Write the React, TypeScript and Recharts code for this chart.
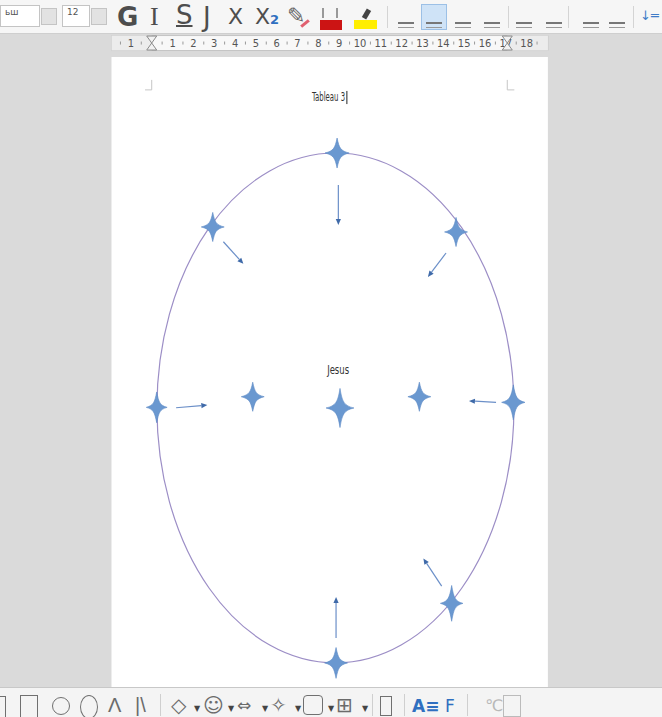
import React from "react";
import {
	ScatterChart,
	Scatter,
	XAxis,
	YAxis,
	ReferenceArea,
	ReferenceLine,
} from "recharts";

// everything is in page centimetres, read off the ruler:
// x = 0 at the left margin, y = 0 at the top edge of the page
const PX_PER_CM = 20.83;
const X_DOMAIN = [-7.283, 24.498];
const Y_DOMAIN = [-2.736, 31.685];

const page = { x1: -1.93, x2: 19.02, y1: 0, y2: 31.6 };
const ruler = { x1: -1.93, x2: 19.02, y1: -1.03, y2: -0.31, y: -0.67 };
const rulerMargins = [0, 17.07];
const rulerNumbers = [
	{ x: -1, label: "1" },
	{ x: 1, label: "1" },
	{ x: 2, label: "2" },
	{ x: 3, label: "3" },
	{ x: 4, label: "4" },
	{ x: 5, label: "5" },
	{ x: 6, label: "6" },
	{ x: 7, label: "7" },
	{ x: 8, label: "8" },
	{ x: 9, label: "9" },
	{ x: 10, label: "10" },
	{ x: 11, label: "11" },
	{ x: 12, label: "12" },
	{ x: 13, label: "13" },
	{ x: 14, label: "14" },
	{ x: 15, label: "15" },
	{ x: 16, label: "16" },
	{ x: 17, label: "17" },
	{ x: 18, label: "18" },
];
const rulerHalfTicks = [
	-1.5, -0.5, 0.5, 1.5, 2.5, 3.5, 4.5, 5.5, 6.5, 7.5, 8.5, 9.5, 10.5, 11.5,
	12.5, 13.5, 14.5, 15.5, 16.5, 17.5, 18.5,
];

// text-area corner marks
const cornerMarks = [
	{ x1: 0, y1: 1.1, x2: 0, y2: 1.58 },
	{ x1: -0.32, y1: 1.58, x2: 0, y2: 1.58 },
	{ x1: 17.07, y1: 1.1, x2: 17.07, y2: 1.58 },
	{ x1: 17.07, y1: 1.58, x2: 17.41, y2: 1.58 },
];

const ellipse = { x1: 0.25, x2: 17.39, y1: 4.61, y2: 29.09 };

// star centres and arm lengths (h vertical, w horizontal)
const stars = [
	{ x: 8.9, y: 4.61, h: 0.72, w: 0.58 },
	{ x: 2.93, y: 8.16, h: 0.7, w: 0.55 },
	{ x: 14.61, y: 8.4, h: 0.7, w: 0.55 },
	{ x: 0.24, y: 16.82, h: 0.74, w: 0.5 },
	{ x: 4.85, y: 16.31, h: 0.7, w: 0.55 },
	{ x: 9.04, y: 16.85, h: 0.94, w: 0.67 },
	{ x: 12.85, y: 16.31, h: 0.7, w: 0.55 },
	{ x: 17.36, y: 16.58, h: 0.84, w: 0.56 },
	{ x: 14.4, y: 26.23, h: 0.86, w: 0.54 },
	{ x: 8.85, y: 29.09, h: 0.74, w: 0.55 },
];

// arrows: from (x1,y1) to the head at (x2,y2)
const arrows = [
	{ x1: 8.96, y1: 6.15, x2: 8.96, y2: 8.07 },
	{ x1: 3.44, y1: 8.87, x2: 4.4, y2: 9.93 },
	{ x1: 14.13, y1: 9.41, x2: 13.26, y2: 10.56 },
	{ x1: 1.17, y1: 16.84, x2: 2.67, y2: 16.71 },
	{ x1: 16.53, y1: 16.58, x2: 15.23, y2: 16.51 },
	{ x1: 13.92, y1: 25.4, x2: 13.04, y2: 24.07 },
	{ x1: 8.85, y1: 27.89, x2: 8.85, y2: 25.92 },
];

const texts = [
	{ x: 8.49, y: 2.12, text: "Tableau 3", len: 33 },
	{ x: 8.95, y: 15.2, text: "Jesus", len: 22 },
];
const cursor = { x: 9.37, y1: 1.63, y2: 2.26 };

const textFont = "'Liberation Sans Narrow', 'DejaVu Sans Condensed', sans-serif";

const StarShape = (props: any) => {
	const { cx, cy, payload } = props;
	const h = payload.h * PX_PER_CM;
	const w = payload.w * PX_PER_CM;
	const a = 2.2;
	const kh = 0.3 * h;
	const kw = 0.3 * w;
	const d = [
		`M${cx},${cy - h}`,
		`C${cx + a},${cy - kh} ${cx + kw},${cy - a} ${cx + w},${cy}`,
		`C${cx + kw},${cy + a} ${cx + a},${cy + kh} ${cx},${cy + h}`,
		`C${cx - a},${cy + kh} ${cx - kw},${cy + a} ${cx - w},${cy}`,
		`C${cx - kw},${cy - a} ${cx - a},${cy - kh} ${cx},${cy - h}`,
		"Z",
	].join(" ");
	return <path d={d} fill="#6a98d0" stroke="#5a88c4" strokeWidth={0.6} />;
};

const ArrowShape = (props: any) => {
	const { x1, y1, x2, y2 } = props;
	if (x1 == null) return null;
	const dx = x2 - x1;
	const dy = y2 - y1;
	const len = Math.sqrt(dx * dx + dy * dy) || 1;
	const ux = dx / len;
	const uy = dy / len;
	const hl = 6;
	const hw = 2.6;
	const bx = x2 - ux * hl;
	const by = y2 - uy * hl;
	return (
		<g>
			<line x1={x1} y1={y1} x2={bx} y2={by} stroke="#6b8fc8" strokeWidth={1.2} />
			<polygon
				points={`${x2},${y2} ${bx - uy * hw},${by + ux * hw} ${bx + uy * hw},${by - ux * hw}`}
				fill="#3f6aa9"
			/>
		</g>
	);
};

const EllipseShape = (props: any) => {
	const { x, y, width, height } = props;
	if (x == null) return null;
	const w = Math.abs(width);
	const h = Math.abs(height);
	const left = width < 0 ? x + width : x;
	const top = height < 0 ? y + height : y;
	return (
		<ellipse
			cx={left + w / 2}
			cy={top + h / 2}
			rx={w / 2}
			ry={h / 2}
			fill="none"
			stroke="#9c8ec6"
			strokeWidth={1.2}
		/>
	);
};

const RulerNumber = (props: any) => {
	const { cx, cy, payload } = props;
	return (
		<text
			x={cx}
			y={cy + 4}
			textAnchor="middle"
			fontSize={11}
			fontFamily={textFont}
			fill="#555"
		>
			{payload.label}
		</text>
	);
};

const RulerTick = (props: any) => {
	const { cx, cy } = props;
	return <line x1={cx} x2={cx} y1={cy - 1.5} y2={cy + 1.5} stroke="#999" strokeWidth={1} />;
};

const MarginMarker = (props: any) => {
	const { cx, cy } = props;
	return (
		<g fill="#f2f2f2" stroke="#8a8a8a" strokeWidth={1}>
			<polygon points={`${cx - 5},${cy - 7} ${cx + 5},${cy - 7} ${cx},${cy}`} />
			<polygon points={`${cx},${cy} ${cx - 5},${cy + 7} ${cx + 5},${cy + 7}`} />
		</g>
	);
};

const TextShape = (props: any) => {
	const { cx, cy, payload } = props;
	return (
		<text
			x={cx}
			y={cy}
			textAnchor="middle"
			fontSize={12}
			fontFamily={textFont}
			fill="#333"
			textLength={payload.len}
			lengthAdjust="spacingAndGlyphs"
		>
			{payload.text}
		</text>
	);
};

const abs = (left: number, top: number, extra: React.CSSProperties = {}): React.CSSProperties => ({
	position: "absolute",
	left,
	top,
	...extra,
});

const AlignIcon = ({ left, active }: { left: number; active?: boolean }) => (
	<div
		style={abs(left, 4, {
			width: 26,
			height: 26,
			background: active ? "#cfe3f7" : "transparent",
			border: active ? "1px solid #9cc0e6" : "1px solid transparent",
			boxSizing: "border-box",
		})}
	>
		<div style={abs(4, 17, { width: 16, height: 2, background: "#777" })} />
		<div style={abs(4, 22, { width: 16, height: 1, background: "#999" })} />
	</div>
);

const TopToolbar = () => {
	const glyph: React.CSSProperties = {
		fontSize: 26,
		color: "#4d4d4d",
		lineHeight: "26px",
	};
	return (
		<div style={abs(0, 0, { width: 662, height: 33, background: "#f6f6f6", borderBottom: "1px solid #cfcfcf", overflow: "hidden" })}>
			<div style={abs(0, 5, { width: 38, height: 20, background: "#fff", border: "1px solid #c4c4c4", fontSize: 9, lineHeight: "12px", color: "#555", fontFamily: "DejaVu Sans" })}>
				<span style={{ marginLeft: 4 }}>ьш</span>
			</div>
			<div style={abs(41, 8, { width: 14, height: 15, background: "#e2e2e2", border: "1px solid #c4c4c4" })} />
			<div style={abs(62, 5, { width: 26, height: 20, background: "#fff", border: "1px solid #c4c4c4", fontSize: 9, lineHeight: "12px", color: "#555", fontFamily: "DejaVu Sans" })}>
				<span style={{ marginLeft: 4 }}>12</span>
			</div>
			<div style={abs(91, 8, { width: 14, height: 15, background: "#e2e2e2", border: "1px solid #c4c4c4" })} />
			<div style={abs(117, 4, { ...glyph, fontFamily: "DejaVu Sans", fontWeight: 700 })}>G</div>
			<div style={abs(150, 4, { ...glyph, fontFamily: "Liberation Serif" })}>I</div>
			<div style={abs(176, 2, { ...glyph, fontFamily: "DejaVu Sans", textDecoration: "underline", textDecorationThickness: 2 })}>S</div>
			<div style={abs(203, 4, { ...glyph, fontFamily: "DejaVu Sans" })}>J</div>
			<div style={abs(228, 4, { ...glyph, fontFamily: "DejaVu Sans", fontSize: 22 })}>X</div>
			<div style={abs(255, 4, { ...glyph, fontFamily: "DejaVu Sans", fontSize: 22 })}>
				X<span style={{ fontSize: 13, color: "#2f6fc0", fontWeight: 700 }}>2</span>
			</div>
			<div style={abs(287, 3, { ...glyph, fontFamily: "DejaVu Sans", fontSize: 22, color: "#666" })}>✎</div>
			<div style={abs(300, 22, { width: 10, height: 3, background: "#e06070", transform: "rotate(-40deg)" })} />
			<div style={abs(320, 20, { width: 22, height: 10, background: "#cc1414" })} />
			<div style={abs(322, 8, { width: 2, height: 10, background: "#999" })} />
			<div style={abs(336, 8, { width: 2, height: 10, background: "#999" })} />
			<div style={abs(354, 20, { width: 23, height: 9, background: "#ffee00" })} />
			<div style={abs(364, 9, { width: 5, height: 10, background: "#444", transform: "rotate(30deg)" })} />
			<div style={abs(387, 6, { width: 1, height: 22, background: "#d4d4d4" })} />
			<AlignIcon left={393} />
			<AlignIcon left={421} active />
			<AlignIcon left={450} />
			<AlignIcon left={479} />
			<div style={abs(508, 6, { width: 1, height: 22, background: "#d4d4d4" })} />
			<AlignIcon left={511} />
			<AlignIcon left={541} />
			<div style={abs(568, 6, { width: 1, height: 22, background: "#d4d4d4" })} />
			<AlignIcon left={578} />
			<AlignIcon left={604} />
			<div style={abs(633, 6, { width: 1, height: 22, background: "#d4d4d4" })} />
			<div style={abs(640, 8, { fontSize: 13, lineHeight: "16px", color: "#3f7cc8", fontFamily: "DejaVu Sans" })}>↓═</div>
		</div>
	);
};

const BottomToolbar = () => {
	const g: React.CSSProperties = {
		fontSize: 20,
		color: "#6b6b6b",
		fontFamily: "DejaVu Sans",
		lineHeight: "22px",
	};
	const tri: React.CSSProperties = { fontSize: 8, lineHeight: "10px", color: "#444", fontFamily: "DejaVu Sans" };
	const sep = (left: number) => (
		<div style={abs(left, 694, { width: 1, height: 22, background: "#cfcfcf" })} />
	);
	return (
		<>
			<div style={abs(0, 687, { width: 662, height: 30, background: "#f4f4f4", borderTop: "1px solid #c8c8c8" })} />
			<div style={abs(0, 696, { width: 6, height: 21, borderTop: "1.5px solid #707070", borderRight: "1.5px solid #707070", boxSizing: "border-box" })} />
			<div style={abs(20, 695, { width: 18, height: 22, border: "1.5px solid #707070", borderBottom: "none", boxSizing: "border-box" })} />
			<div style={abs(52, 697, { width: 18, height: 18, border: "1.5px solid #707070", borderRadius: "50%", boxSizing: "border-box" })} />
			<div style={abs(80, 695, { width: 18, height: 24, border: "1.5px solid #707070", borderRadius: "50%", boxSizing: "border-box" })} />
			<div style={abs(108, 694, { ...g, fontFamily: "Liberation Sans" })}>Λ</div>
			<div style={abs(135, 694, { ...g, fontFamily: "Liberation Sans" })}>|\</div>
			{sep(160)}
			<div style={abs(171, 694, g)}>◇</div>
			<div style={abs(194, 704, tri)}>▼</div>
			<div style={abs(203, 694, g)}>☺</div>
			<div style={abs(228, 704, tri)}>▼</div>
			<div style={abs(237, 694, { ...g, fontSize: 17 })}>⇔</div>
			<div style={abs(262, 704, tri)}>▼</div>
			<div style={abs(270, 694, g)}>✧</div>
			<div style={abs(295, 704, tri)}>▼</div>
			<div style={abs(303, 695, { width: 20, height: 20, border: "1.5px solid #707070", borderRadius: 4, boxSizing: "border-box" })} />
			<div style={abs(328, 704, tri)}>▼</div>
			<div style={abs(336, 694, g)}>⊞</div>
			<div style={abs(362, 704, tri)}>▼</div>
			{sep(372)}
			<div style={abs(380, 696, { width: 12, height: 20, border: "1.5px solid #707070", boxSizing: "border-box" })} />
			{sep(404)}
			<div style={abs(412, 695, { ...g, fontSize: 17, color: "#2f6fc0", fontWeight: 700 })}>A≡</div>
			<div style={abs(445, 695, { ...g, fontSize: 17, color: "#2f6fc0" })}>F</div>
			{sep(467)}
			<div style={abs(485, 695, { ...g, fontSize: 16, color: "#b8b8b8" })}>℃</div>
			<div style={abs(503, 695, { width: 18, height: 22, border: "1.5px solid #bbbbbb", boxSizing: "border-box" })} />
		</>
	);
};

const App = () => {
	return (
		<div
			style={{
				position: "absolute",
				left: 0,
				top: 0,
				width: 662,
				height: 717,
				background: "#dadada",
				overflow: "hidden",
			}}
		>
			<ScatterChart
				width={662}
				height={717}
				margin={{ top: 0, right: 0, bottom: 0, left: 0 }}
			>
				<XAxis type="number" dataKey="x" domain={X_DOMAIN} allowDataOverflow hide />
				<YAxis type="number" dataKey="y" domain={Y_DOMAIN} allowDataOverflow reversed hide />
				<ReferenceArea
					x1={page.x1}
					x2={page.x2}
					y1={page.y1}
					y2={page.y2}
					fill="#ffffff"
					fillOpacity={1}
					stroke="none"
				/>
				<ReferenceArea
					x1={ruler.x1}
					x2={ruler.x2}
					y1={ruler.y1}
					y2={ruler.y2}
					fill="#f8f8f8"
					fillOpacity={1}
					stroke="#c4c4c4"
				/>
				<ReferenceArea
					x1={ruler.x1}
					x2={rulerMargins[0]}
					y1={ruler.y1}
					y2={ruler.y2}
					fill="#ececec"
					fillOpacity={1}
					stroke="none"
				/>
				<ReferenceArea
					x1={rulerMargins[1]}
					x2={ruler.x2}
					y1={ruler.y1}
					y2={ruler.y2}
					fill="#ececec"
					fillOpacity={1}
					stroke="none"
				/>
				{cornerMarks.map((m, i) => (
					<ReferenceLine
						key={`c${i}`}
						segment={[
							{ x: m.x1, y: m.y1 },
							{ x: m.x2, y: m.y2 },
						]}
						stroke="#c6c6c6"
						strokeWidth={1}
					/>
				))}
				<ReferenceArea
					x1={ellipse.x1}
					x2={ellipse.x2}
					y1={ellipse.y1}
					y2={ellipse.y2}
					shape={(p: any) => <EllipseShape {...p} />}
				/>
				{arrows.map((a, i) => (
					<ReferenceLine
						key={`a${i}`}
						segment={[
							{ x: a.x1, y: a.y1 },
							{ x: a.x2, y: a.y2 },
						]}
						shape={(p: any) => <ArrowShape {...p} />}
					/>
				))}
				<ReferenceLine
					segment={[
						{ x: cursor.x, y: cursor.y1 },
						{ x: cursor.x, y: cursor.y2 },
					]}
					stroke="#222"
					strokeWidth={1}
				/>
				<Scatter
					data={rulerHalfTicks.map((x) => ({ x, y: ruler.y }))}
					shape={(p: any) => <RulerTick {...p} />}
					isAnimationActive={false}
				/>
				<Scatter
					data={rulerNumbers.map((n) => ({ ...n, y: ruler.y }))}
					shape={(p: any) => <RulerNumber {...p} />}
					isAnimationActive={false}
				/>
				<Scatter
					data={rulerMargins.map((x) => ({ x, y: ruler.y }))}
					shape={(p: any) => <MarginMarker {...p} />}
					isAnimationActive={false}
				/>
				<Scatter
					data={texts}
					shape={(p: any) => <TextShape {...p} />}
					isAnimationActive={false}
				/>
				<Scatter
					data={stars}
					shape={(p: any) => <StarShape {...p} />}
					isAnimationActive={false}
				/>
			</ScatterChart>
			<TopToolbar />
			<BottomToolbar />
		</div>
	);
};

export default App;
